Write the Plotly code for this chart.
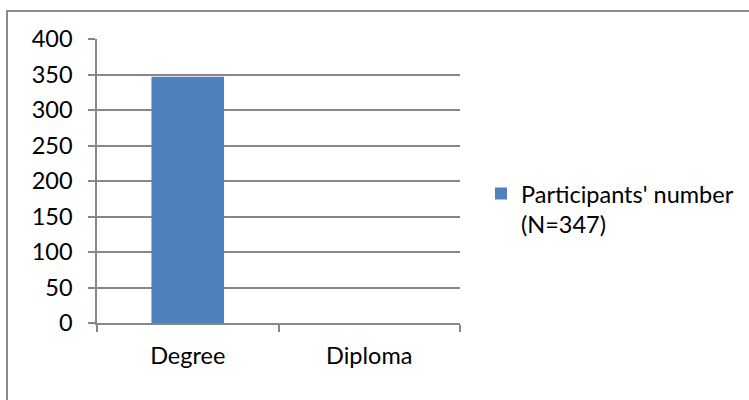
import plotly.graph_objects as go

# Data
categories = ["Degree", "Diploma"]
participants = [347, 0]
series_name = "Participants' number<br>(N=347)"
y_ticks = [0, 50, 100, 150, 200, 250, 300, 350, 400]

W, H = 749, 400
L, R, T, B = 97, 289, 39, 77
plot_w = W - L - R
plot_h = H - T - B

GRID = "#878787"
FONT = dict(family="Lato, Calibri, Carlito, sans-serif", size=23.5, color="#000000")

fig = go.Figure()
fig.add_trace(go.Bar(
    x=categories,
    y=participants,
    name=series_name,
    marker=dict(color="#4f81bd", line=dict(width=0)),
    width=0.4,
    showlegend=True,
))

# chart-area frame (top and left edges)
fx0 = (7 - L) / plot_w
fy0 = 1 + (T - 11) / plot_h
fig.add_shape(
    type="path",
    xref="paper", yref="paper",
    path=f"M {fx0} {-B / plot_h - 0.05} L {fx0} {fy0} L {1 + (R + 10) / plot_w} {fy0}",
    line=dict(color="#8a8a8a", width=2),
)

fig.update_layout(
    width=W, height=H,
    margin=dict(l=L, r=R, t=T, b=B, pad=0, autoexpand=False),
    paper_bgcolor="white",
    plot_bgcolor="white",
    font=FONT,
    bargap=0.6,
    showlegend=True,
    legend=dict(
        x=(481 - L) / plot_w, xanchor="left",
        y=(322.7 - 209) / plot_h, yanchor="middle",
        font=FONT,
        bgcolor="rgba(0,0,0,0)",
        itemwidth=30,
        valign="top",
        tracegroupgap=0,
    ),
    xaxis=dict(
        type="category",
        showgrid=False,
        showline=True, linecolor=GRID, linewidth=1.5,
        ticks="outside", ticklen=7, tickwidth=1.5, tickcolor=GRID,
        tickson="boundaries",
        ticklabelstandoff=11,
        tickfont=FONT,
        zeroline=False,
    ),
    yaxis=dict(
        range=[0, 400],
        tickvals=y_ticks,
        showgrid=True, gridcolor=GRID, gridwidth=1.5,
        showline=True, linecolor=GRID, linewidth=1.5,
        ticks="outside", ticklen=7, tickwidth=1.5, tickcolor=GRID,
        ticklabelstandoff=11,
        tickfont=FONT,
        zeroline=False,
    ),
)

fig.write_html("out.html")
